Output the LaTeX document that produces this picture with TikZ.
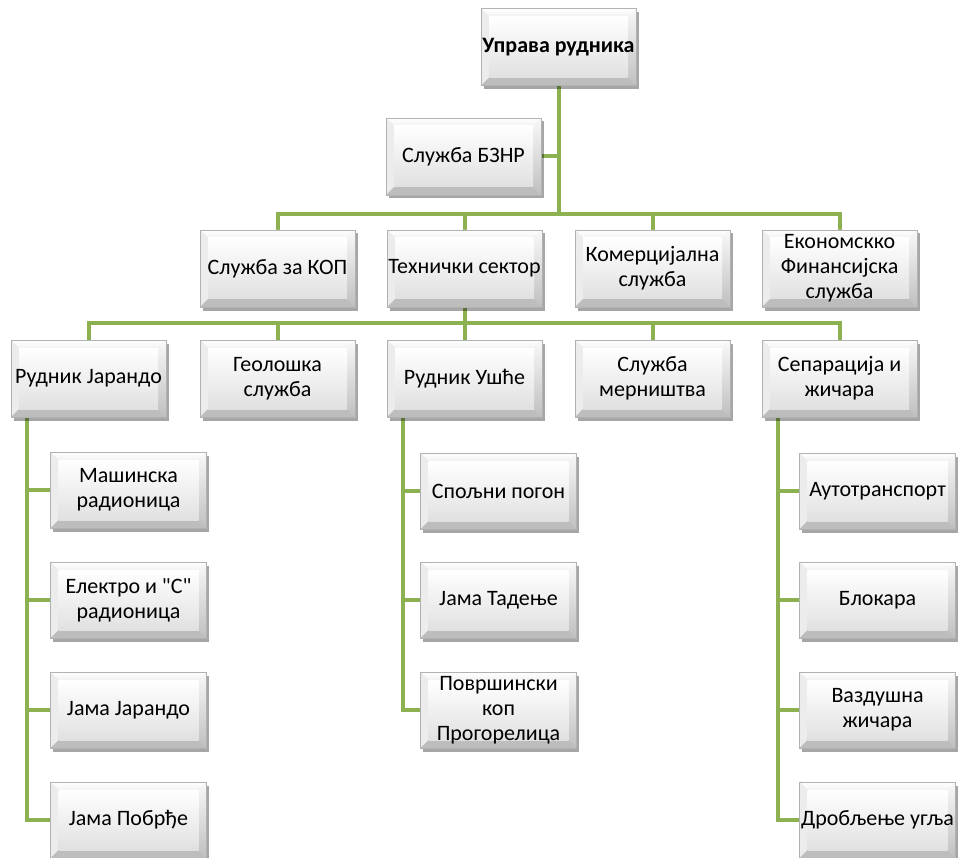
\documentclass[tikz,border=0pt]{standalone}
\usepackage{fontspec}
\setmainfont{Carlito}
% same face without the TeX quote mapping, for straight quotes
\newfontfamily\straightq{Carlito}
\usetikzlibrary{shadows,calc,backgrounds}
\definecolor{linkgreen}{RGB}{141,177,80}
\newcommand\bxfont{\fontsize{22}{25}\selectfont}

\tikzset{
  % raised grey box with bevelled edges
  bevelbox/.style={
    minimum width=155pt, minimum height=77pt, inner sep=1pt,
    align=center, font=\bxfont, draw=gray!60, line width=0.5pt,
    fill=gray!20,
    drop shadow={shadow xshift=2.5pt, shadow yshift=-3.5pt, opacity=0.35, fill=black},
    path picture={
      \path (path picture bounding box.north west) coordinate (pNW)
            (path picture bounding box.north east) coordinate (pNE)
            (path picture bounding box.south west) coordinate (pSW)
            (path picture bounding box.south east) coordinate (pSE);
      \coordinate (iNW) at ($(pNW)+(8pt,-8pt)$);
      \coordinate (iNE) at ($(pNE)+(-8pt,-8pt)$);
      \coordinate (iSW) at ($(pSW)+(8pt,8pt)$);
      \coordinate (iSE) at ($(pSE)+(-8pt,8pt)$);
      \shade[top color=white, bottom color=gray!10] (pNW) -- (pNE) -- (iNE) -- (iNW) -- cycle;
      \fill[gray!15] (pNW) -- (iNW) -- (iSW) -- (pSW) -- cycle;
      \shade[top color=gray!5, bottom color=gray!50] (pNE) -- (pSE) -- (iSE) -- (iNE) -- cycle;
      \fill[gray!52] (pSW) -- (iSW) -- (iSE) -- (pSE) -- cycle;
      \shade[top color=white, bottom color=gray!24] (iNW) rectangle (iSE);
    }
  },
  childbox/.style={bevelbox, minimum width=156pt, minimum height=76pt},
  link/.style={draw=linkgreen, line width=4pt}
}

\begin{document}
\begin{tikzpicture}[x=1pt, y=1pt]
\useasboundingbox (0,0) rectangle (960,-858);

% head and staff service
\node[bevelbox] (top)  at (558.5,-47)   {\textbf{Управа рудника}};
\node[bevelbox] (bznr) at (463.5,-156.5) {Служба БЗНР};

% second level
\node[bevelbox] (kop) at (277.5,-268.5) {Служба за КОП};
\node[bevelbox] (teh) at (464.5,-268.5) {Технички сектор};
\node[bevelbox] (kom) at (652.5,-268.5) {Комерцијална\\служба};
\node[bevelbox] (eko) at (839.5,-268.5) {Економскко\\Финансијска\\служба};

% technical sector units
\node[bevelbox] (jar) at (88.5,-378.5)  {Рудник Јарандо};
\node[bevelbox] (geo) at (277.5,-378.5) {Геолошка\\служба};
\node[bevelbox] (use) at (464.5,-378.5) {Рудник Ушће};
\node[bevelbox] (mer) at (652.5,-378.5) {Служба\\мерништва};
\node[bevelbox] (sep) at (839.5,-378.5) {Сепарација и\\жичара};

% mine Jarando
\node[childbox] (mas) at (128.5,-490) {Машинска\\радионица};
\node[childbox] (ele) at (128.5,-600) {Електро и {\straightq"}С{\straightq"}\\радионица};
\node[childbox] (jj)  at (128.5,-710) {Јама Јарандо};
\node[childbox] (jp)  at (128.5,-820) {Јама Побрђе};

% mine Ušće
\node[childbox] (spo) at (498.5,-491) {Спољни погон};
\node[childbox] (tad) at (498.5,-600) {Јама Тадење};
\node[childbox] (pov) at (498.5,-710) {Површински\\коп\\Прогорелица};

% separation and ropeway
\node[childbox] (aut) at (877.5,-491) {Аутотранспорт};
\node[childbox] (blo) at (877.5,-600) {Блокара};
\node[childbox] (vaz) at (877.5,-710) {Ваздушна\\жичара};
\node[childbox] (dro) at (877.5,-820) {Дробљење угља};

\begin{scope}[on background layer]
  \coordinate (bus1) at (558.5,-214);
  \coordinate (bus2) at (464.5,-323);
  \draw[link] (top.south) -- (bus1);
  \draw[link] (bznr.east) -- (bznr.east -| top.south);
  \foreach \n in {kop,teh,kom,eko} \draw[link] (bus1) -| (\n.north);
  \draw[link] (teh.south) -- (bus2);
  \foreach \n in {jar,geo,use,mer,sep} \draw[link] (bus2) -| (\n.north);
  \foreach \n in {mas,ele,jj,jp} \draw[link] ([xshift=16pt]jar.south west) |- (\n.west);
  \foreach \n in {spo,tad,pov} \draw[link] ([xshift=16pt]use.south west) |- (\n.west);
  \foreach \n in {aut,blo,vaz,dro} \draw[link] ([xshift=16pt]sep.south west) |- (\n.west);
\end{scope}
\end{tikzpicture}
\end{document}
